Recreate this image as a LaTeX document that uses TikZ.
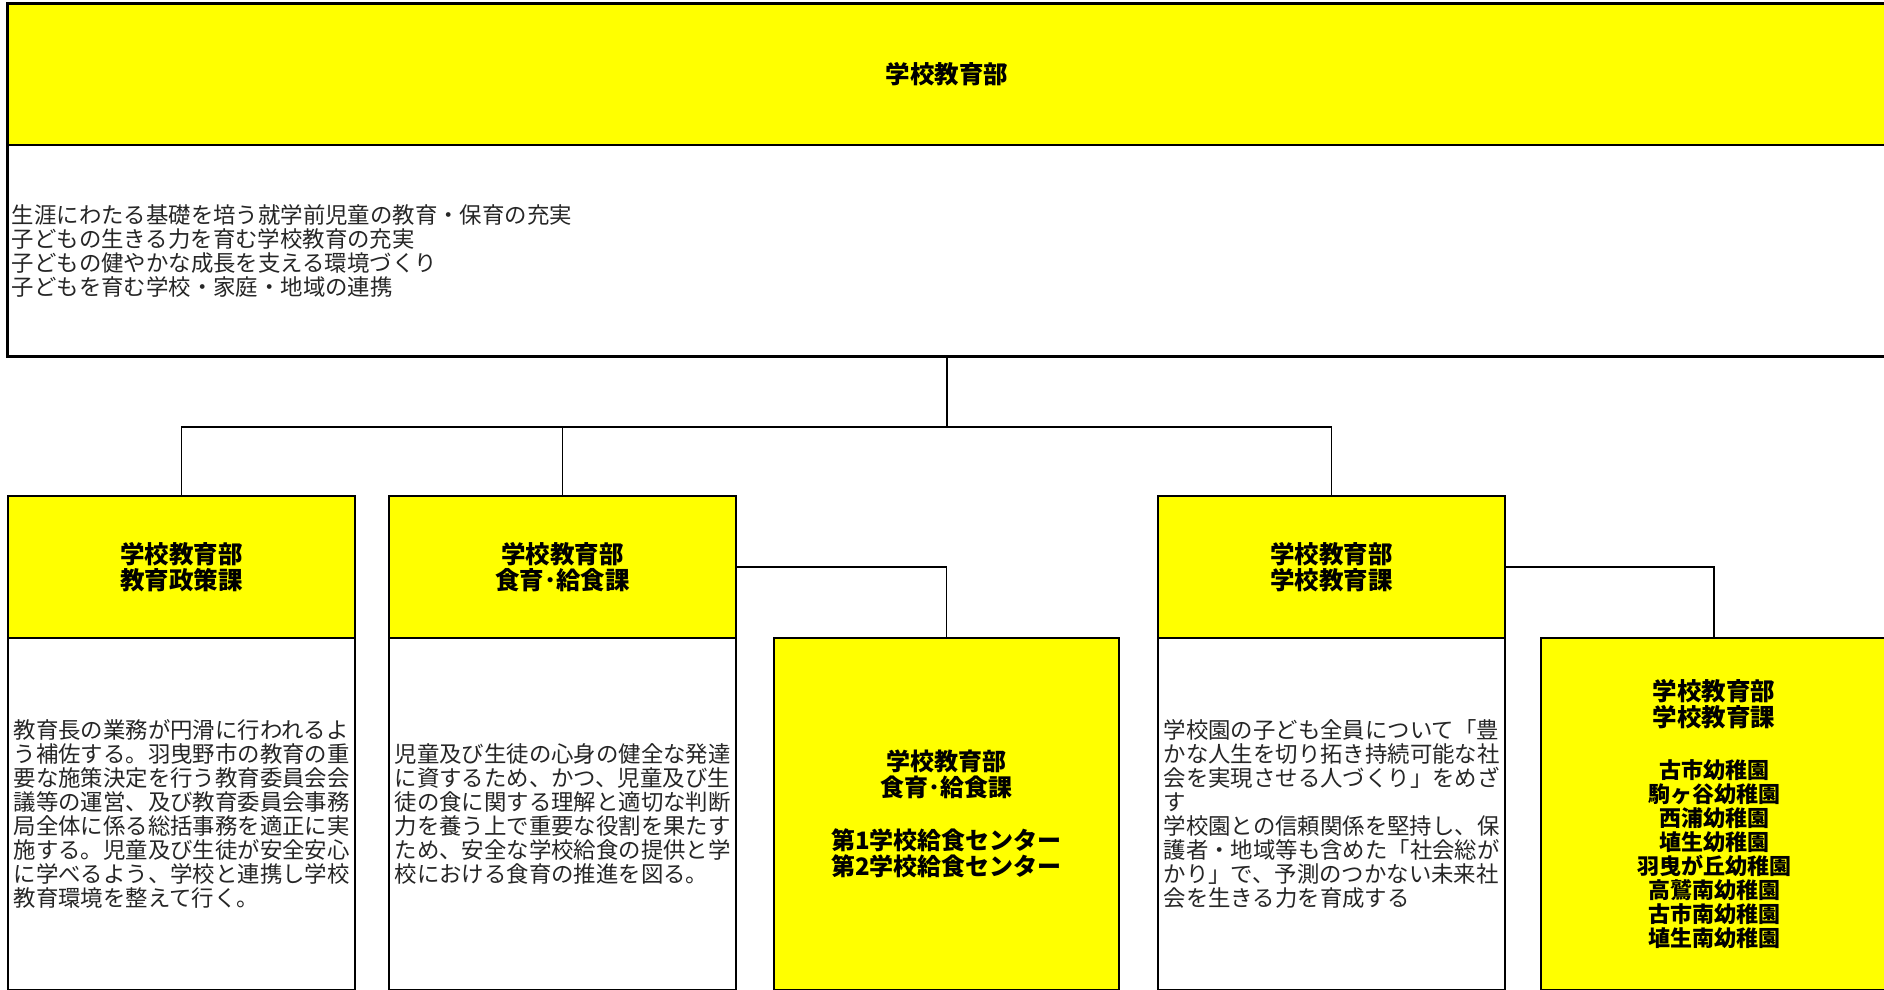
\documentclass[tikz,border=0pt]{standalone}
\usepackage{fontspec}
\setmainfont{Noto Sans CJK JP}
\definecolor{yel}{RGB}{255,255,0}
\tikzset{
  frame/.style={draw=black, line width=2pt},
  conn/.style={draw=black, line width=1.6pt},
  tophead/.style={fill=yel, draw=black, line width=1.2pt, minimum width=1878, minimum height=141, inner sep=0pt, align=center, font=\fontsize{24.5}{25.5}\selectfont\bfseries},
  topbody/.style={fill=white, draw=black, line width=1.2pt, minimum width=1878, minimum height=211, inner sep=4pt, text width=1870, align=left, font=\fontsize{22.4}{24}\selectfont, text=black!85},
  head/.style={fill=yel, draw=black, line width=1.2pt, minimum width=345.5, minimum height=141, inner sep=0pt, align=center, font=\fontsize{24.5}{25.5}\selectfont\bfseries},
  body/.style={fill=white, draw=black, line width=1.2pt, minimum width=345.5, minimum height=352, inner sep=5pt, text width=335.5, align=left, font=\fontsize{22.4}{24}\selectfont, text=black!85},
  fullbox/.style={fill=yel, draw=black, line width=2pt, minimum width=345.5, minimum height=352, inner sep=0pt, align=center}
}
\begin{document}
\begin{tikzpicture}[x=1pt,y=-1pt]
\useasboundingbox (0,0) rectangle (1884,989);

% top box
\node[tophead] (topH) at (947,74.5) {学校教育部};
\node[topbody] (topB) at (947,250.5) {生涯にわたる基礎を培う就学前児童の教育・保育の充実\\子どもの生きる力を育む学校教育の充実\\子どもの健やかな成長を支える環境づくり\\子どもを育む学校・家庭・地域の連携};
\draw[frame] (topH.north west) rectangle (topB.south east);

% box A
\node[head] (hA) at (181.4,567.2) {学校教育部\\教育政策課};
\node[body] (bA) at (181.4,814) {教育長の業務が円滑に行われるよ\\う補佐する。羽曳野市の教育の重\\要な施策決定を行う教育委員会会\\議等の運営、及び教育委員会事務\\局全体に係る総括事務を適正に実\\施する。児童及び生徒が安全安心\\に学べるよう、学校と連携し学校\\教育環境を整えて行く。};
\draw[frame] (hA.north west) rectangle (bA.south east);

% box B
\node[head] (hB) at (562.5,567.2) {学校教育部\\食育･給食課};
\node[body] (bB) at (562.5,814) {児童及び生徒の心身の健全な発達\\に資するため、かつ、児童及び生\\徒の食に関する理解と適切な判断\\力を養う上で重要な役割を果たす\\ため、安全な学校給食の提供と学\\校における食育の推進を図る。};
\draw[frame] (hB.north west) rectangle (bB.south east);

% box C
\node[fullbox, font=\fontsize{24}{26.3}\selectfont\bfseries] (C) at (946.5,814) {学校教育部\\食育･給食課\\[26.3pt]第1学校給食センター\\第2学校給食センター};

% box D
\node[head] (hD) at (1331.4,567.2) {学校教育部\\学校教育課};
\node[body] (bD) at (1331.4,814) {学校園の子ども全員について「豊\\かな人生を切り拓き持続可能な社\\会を実現させる人づくり」をめざ\\す\\学校園との信頼関係を堅持し、保\\護者・地域等も含めた「社会総が\\かり」で、予測のつかない未来社\\会を生きる力を育成する};
\draw[frame] (hD.north west) rectangle (bD.south east);

% box E
\node[fullbox, font=\fontsize{22}{24}\selectfont\bfseries] (E) at (1714,814) {{\fontsize{24.5}{24}\selectfont 学校教育部}\\[2pt]{\fontsize{24.5}{24}\selectfont 学校教育課}\\[28pt]古市幼稚園\\駒ヶ谷幼稚園\\西浦幼稚園\\埴生幼稚園\\羽曳が丘幼稚園\\高鷲南幼稚園\\古市南幼稚園\\埴生南幼稚園};

% connectors
\coordinate (bus) at (947,427);
\draw[conn] (topB.south) -- (bus);
\draw[conn] (hA.north) |- (bus);
\draw[conn] (hB.north) |- (bus);
\draw[conn] (hD.north) |- (bus);
\draw[conn] (hB.east) -| (C.north);
\draw[conn] (hD.east) -| (E.north);
\end{tikzpicture}
\end{document}
